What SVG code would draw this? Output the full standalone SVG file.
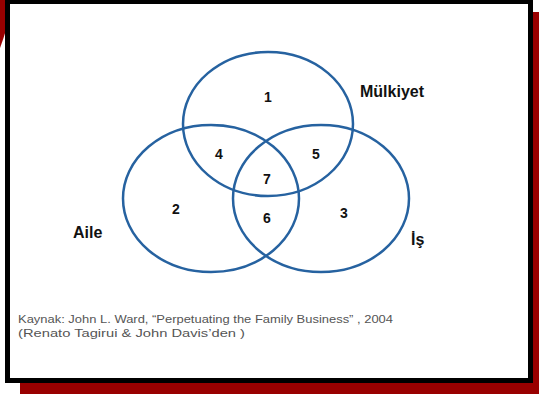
<svg xmlns="http://www.w3.org/2000/svg" width="539" height="394" viewBox="0 0 539 394">
<style>
.c{fill:none;stroke:#2662a0;stroke-width:2.5}
.n{font-family:"Liberation Sans",Arial,sans-serif;font-weight:bold;font-size:14px;fill:#111;text-anchor:middle}
.l{font-family:"Liberation Sans",Arial,sans-serif;font-weight:bold;font-size:16px;fill:#111}
.f{font-family:"Liberation Sans",Arial,sans-serif;font-size:10.5px;fill:#555}
</style>
<rect width="539" height="394" fill="#fff"/>
<rect x="20" y="12" width="519" height="382" fill="#990000"/>
<path d="M0,0 L6,0 L6,30 Q3,40 0,48 Z" fill="#990000"/>
<rect x="7.5" y="1.5" width="523" height="379" fill="#fff" stroke="#000" stroke-width="5"/>
<g id="connectors"></g>
<g id="mulkiyet">
<ellipse class="c" cx="268" cy="124" rx="85" ry="72"/>
<text class="l" x="360" y="97">Mülkiyet</text>
</g>
<g id="aile">
<ellipse class="c" cx="211" cy="198.5" rx="88" ry="73.5"/>
<text class="l" x="73" y="238">Aile</text>
</g>
<g id="is">
<ellipse class="c" cx="321" cy="198.5" rx="88" ry="73.5"/>
<text class="l" x="411" y="245">İş</text>
</g>
<g id="numbers">
<text class="n" x="268" y="102">1</text>
<text class="n" x="176" y="214">2</text>
<text class="n" x="344" y="218">3</text>
<text class="n" x="219" y="159">4</text>
<text class="n" x="316" y="159">5</text>
<text class="n" x="267" y="223">6</text>
<text class="n" x="267" y="184">7</text>
</g>
<g id="source">
<text class="f" x="18" y="323" textLength="375" lengthAdjust="spacingAndGlyphs">Kaynak: John L. Ward, “Perpetuating the Family Business” , 2004</text>
<text class="f" x="18" y="337" textLength="227" lengthAdjust="spacingAndGlyphs">(Renato Tagirui &amp; John Davis’den )</text>
</g>
</svg>
